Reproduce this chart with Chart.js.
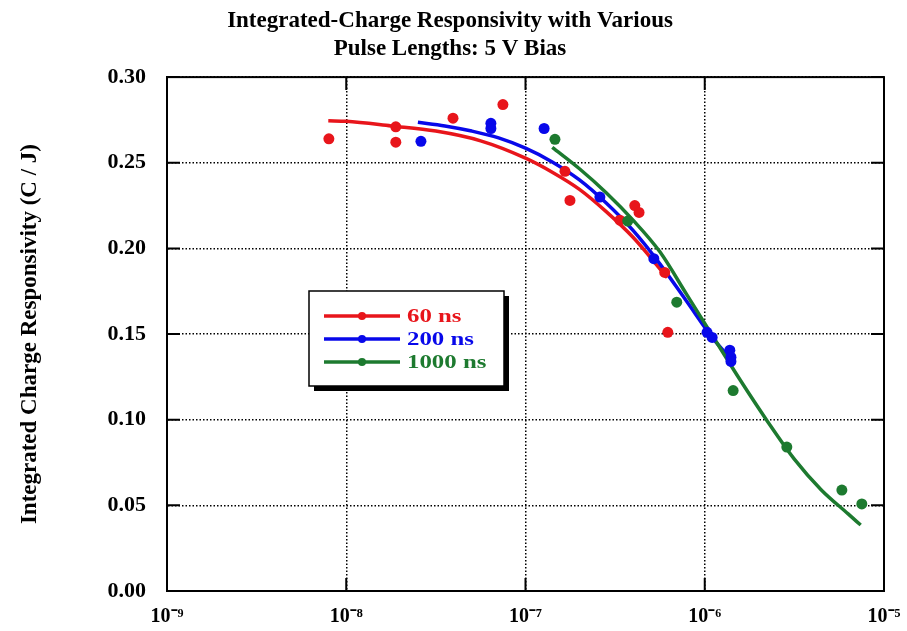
<!DOCTYPE html>
<html>
<head>
<meta charset="utf-8">
<script src="https://cdn.jsdelivr.net/npm/chart.js@4.4.1/dist/chart.umd.min.js"></script>
<style>
html, body { margin: 0; padding: 0; background: #fff; }
</style>
</head>
<body>
<canvas id="chart" width="907" height="631"></canvas>
<script>
const titleLines = ['Integrated-Charge Responsivity with Various', 'Pulse Lengths: 5 V Bias'];
const yTitle = 'Integrated Charge Responsivity (C / J)';

const xTicks = [1e-9, 1e-8, 1e-7, 1e-6, 1e-5];
const xTickLabels = ['10⁻⁹', '10⁻⁸', '10⁻⁷', '10⁻⁶', '10⁻⁵'];
const yTicks = [0, 0.05, 0.10, 0.15, 0.20, 0.25, 0.30];

const seriesNames = ['60 ns', '200 ns', '1000 ns'];
const seriesColors = ['#e8151b', '#0808ea', '#1d7a2f'];

// measured points
const ns60X = [8.0e-9, 1.89e-8, 1.89e-8, 3.94e-8, 7.48e-8, 1.66e-7, 1.77e-7, 3.36e-7, 4.07e-7, 4.30e-7, 5.98e-7, 6.22e-7];
const ns60Y = [0.264, 0.271, 0.262, 0.276, 0.284, 0.245, 0.228, 0.2165, 0.225, 0.221, 0.186, 0.151];
const ns200X = [2.61e-8, 6.41e-8, 6.41e-8, 1.27e-7, 2.60e-7, 5.2e-7, 1.03e-6, 1.10e-6, 1.38e-6, 1.40e-6, 1.40e-6];
const ns200Y = [0.2625, 0.273, 0.270, 0.270, 0.230, 0.194, 0.151, 0.148, 0.1406, 0.1365, 0.134];
const ns1000X = [1.46e-7, 3.72e-7, 6.98e-7, 1.44e-6, 2.87e-6, 5.82e-6, 7.52e-6];
const ns1000Y = [0.2637, 0.216, 0.1686, 0.117, 0.084, 0.0589, 0.0508];

// fitted curves
const fit60X = [7.94e-9, 1e-8, 1.78e-8, 3.16e-8, 5.62e-8, 1e-7, 1.41e-7, 2.0e-7, 2.82e-7, 3.98e-7, 6.17e-7];
const fit60Y = [0.2745, 0.2742, 0.2715, 0.2685, 0.2628, 0.2527, 0.2445, 0.2345, 0.2215, 0.2065, 0.183];
const fit200X = [2.51e-8, 3.55e-8, 5.01e-8, 7.08e-8, 1e-7, 1.41e-7, 2.0e-7, 2.82e-7, 3.98e-7, 5.62e-7, 7.94e-7, 1.12e-6, 1.41e-6];
const fit200Y = [0.2736, 0.2715, 0.2685, 0.2645, 0.2585, 0.2505, 0.240, 0.2265, 0.2105, 0.191, 0.169, 0.147, 0.135];
const fit1000X = [1.41e-7, 2.0e-7, 2.82e-7, 3.98e-7, 5.62e-7, 7.94e-7, 1.12e-6, 1.58e-6, 2.24e-6, 3.16e-6, 4.47e-6, 6.31e-6, 7.41e-6];
const fit1000Y = [0.259, 0.2465, 0.2325, 0.2165, 0.198, 0.173, 0.148, 0.123, 0.099, 0.077, 0.059, 0.045, 0.0385];

const FONT = "'Liberation Serif', 'Times New Roman', serif";

function pairs(xs, ys) {
	return xs.map((x, i) => ({ x: x, y: ys[i] }));
}

function pointSet(xs, ys, color) {
	return {
		data: pairs(xs, ys),
		showLine: false,
		pointRadius: 5.5,
		pointBackgroundColor: color,
		pointBorderWidth: 0
	};
}

function fitSet(xs, ys, color) {
	return {
		data: pairs(xs, ys),
		showLine: true,
		borderColor: color,
		borderWidth: 3.5,
		pointRadius: 0,
		cubicInterpolationMode: 'monotone'
	};
}

// frame, inner tick marks and the boxed legend
const framePlugin = {
	id: 'frame',
	afterDatasetsDraw(chart) {
		const ctx = chart.ctx;
		const a = chart.chartArea;
		const xs = chart.scales.x;
		const ys = chart.scales.y;
		ctx.save();
		ctx.strokeStyle = '#000';
		ctx.lineWidth = 2;
		ctx.setLineDash([]);
		ctx.strokeRect(a.left, a.top, a.right - a.left, a.bottom - a.top);
		const len = 13;
		ctx.beginPath();
		xTicks.forEach(v => {
			const px = xs.getPixelForValue(v);
			ctx.moveTo(px, a.bottom); ctx.lineTo(px, a.bottom - len);
			ctx.moveTo(px, a.top); ctx.lineTo(px, a.top + len);
		});
		yTicks.forEach(v => {
			const py = ys.getPixelForValue(v);
			ctx.moveTo(a.left, py); ctx.lineTo(a.left + len, py);
			ctx.moveTo(a.right, py); ctx.lineTo(a.right - len, py);
		});
		ctx.stroke();

		// legend
		const bx = 309, by = 291, bw = 195, bh = 95;
		ctx.fillStyle = '#000';
		ctx.fillRect(bx + 5, by + 5, bw, bh);
		ctx.fillStyle = '#fff';
		ctx.fillRect(bx, by, bw, bh);
		ctx.lineWidth = 1.5;
		ctx.strokeRect(bx, by, bw, bh);
		ctx.font = 'bold 18px ' + FONT;
		ctx.textBaseline = 'middle';
		seriesNames.forEach((name, i) => {
			const yy = by + 25 + i * 23;
			ctx.strokeStyle = seriesColors[i];
			ctx.lineWidth = 3.5;
			ctx.beginPath();
			ctx.moveTo(bx + 15, yy);
			ctx.lineTo(bx + 91, yy);
			ctx.stroke();
			ctx.fillStyle = seriesColors[i];
			ctx.beginPath();
			ctx.arc(bx + 53, yy, 4, 0, Math.PI * 2);
			ctx.fill();
			ctx.save();
			ctx.translate(bx + 98, yy + 1);
			ctx.scale(1.38, 1);
			ctx.fillText(name, 0, 0);
			ctx.restore();
		});
		ctx.restore();
	}
};

new Chart(document.getElementById('chart'), {
	type: 'scatter',
	data: {
		datasets: [
			pointSet(ns200X, ns200Y, seriesColors[1]),
			pointSet(ns1000X, ns1000Y, seriesColors[2]),
			pointSet(ns60X, ns60Y, seriesColors[0]),
			fitSet(fit1000X, fit1000Y, seriesColors[2]),
			fitSet(fit200X, fit200Y, seriesColors[1]),
			fitSet(fit60X, fit60Y, seriesColors[0])
		]
	},
	options: {
		responsive: false,
		animation: false,
		devicePixelRatio: 1,
		layout: { padding: { left: 16, right: 23, top: 0, bottom: 0 } },
		plugins: {
			legend: { display: false },
			tooltip: { enabled: false },
			title: {
				display: true,
				text: titleLines,
				color: '#000',
				font: { family: FONT, size: 23, weight: 'bold', lineHeight: 1.22 },
				padding: { top: 7, bottom: 14 }
			}
		},
		scales: {
			x: {
				type: 'logarithmic',
				min: 1e-9,
				max: 1e-5,
				afterBuildTicks: s => { s.ticks = xTicks.map(v => ({ value: v })); },
				afterFit: s => { s.height = 40; s.paddingRight = 0; s.paddingLeft = 0; },
				ticks: {
					callback: (v, i) => xTickLabels[i],
					color: '#000',
					font: { family: FONT, size: 20, weight: 'bold' },
					padding: 14,
					maxRotation: 0,
					autoSkip: false
				},
				grid: { color: '#000', lineWidth: 1.5, drawTicks: false },
				border: { display: true, color: '#000', width: 2, dash: [1.5, 2] }
			},
			y: {
				min: 0,
				max: 0.30,
				afterBuildTicks: s => { s.ticks = yTicks.map(v => ({ value: v })); },
				afterFit: s => { s.width = 151; },
				ticks: {
					callback: v => v.toFixed(2),
					color: '#000',
					font: { family: FONT, size: 22, weight: 'bold' },
					padding: 21
				},
				title: {
					display: true,
					text: yTitle,
					color: '#000',
					font: { family: FONT, size: 23, weight: 'bold' },
					padding: { top: 0, bottom: 0 }
				},
				grid: { color: '#000', lineWidth: 1.5, drawTicks: false },
				border: { display: true, color: '#000', width: 2, dash: [1.5, 2] }
			}
		}
	},
	plugins: [framePlugin]
});
</script>
</body>
</html>
